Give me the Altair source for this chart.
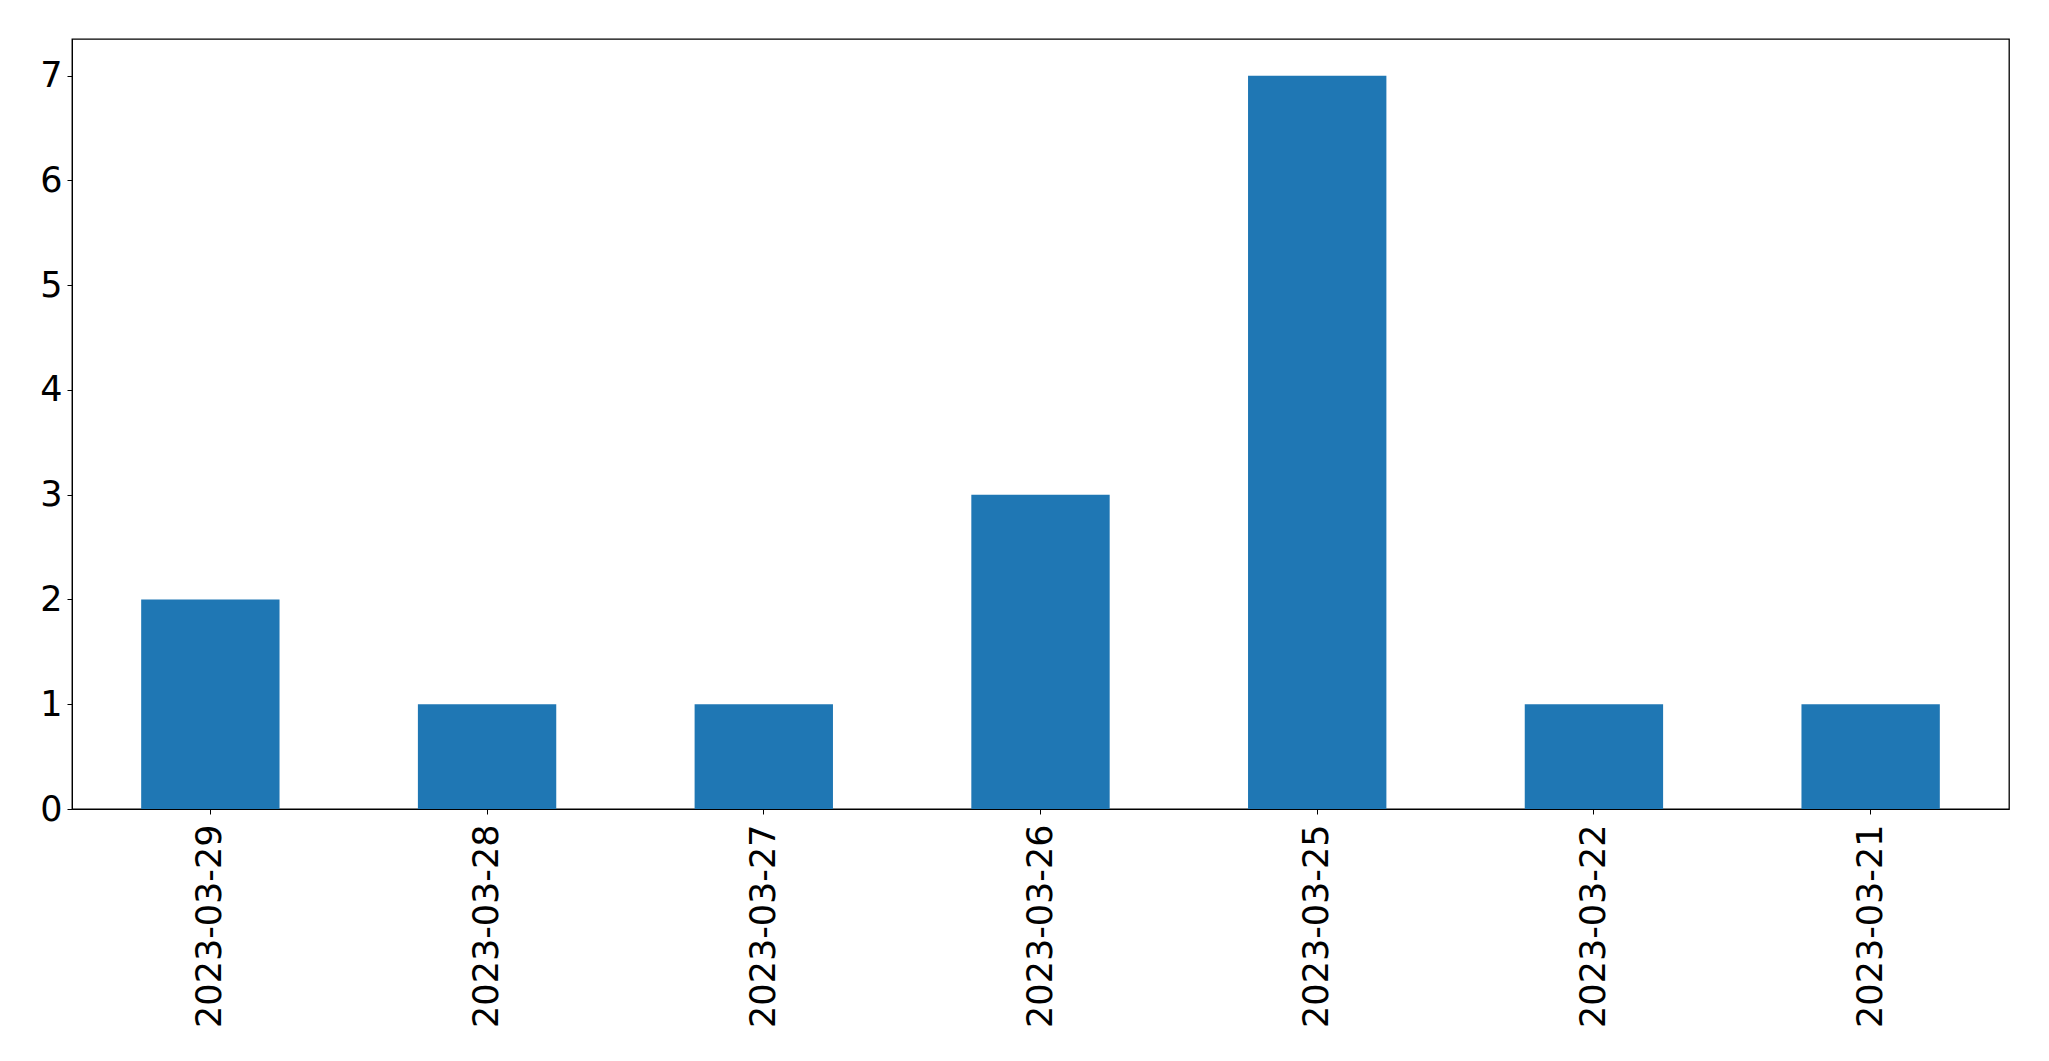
import altair as alt
import pandas as pd

dates = ["2023-03-29", "2023-03-28", "2023-03-27", "2023-03-26", "2023-03-25", "2023-03-22", "2023-03-21"]
counts = [2, 1, 1, 3, 7, 1, 1]

df = pd.DataFrame({"date": dates, "count": counts})

chart = alt.Chart(df).mark_bar(color="#1f77b4").encode(
    x=alt.X("date:N", sort=None, title=None,
            scale=alt.Scale(paddingInner=0.5, paddingOuter=0.25),
            axis=alt.Axis(labelAngle=-90, labelFontSize=35, labelFont="DejaVu Sans",
                          labelColor="black", tickColor="black", tickSize=5,
                          labelPadding=10, labelLimit=0, domainColor="black", grid=False)),
    y=alt.Y("count:Q", title=None,
            scale=alt.Scale(domain=[0, 7.35], nice=False),
            axis=alt.Axis(values=[0, 1, 2, 3, 4, 5, 6, 7], labelFontSize=35,
                          labelFont="DejaVu Sans", labelColor="black",
                          tickColor="black", tickSize=5, labelPadding=5,
                          domainColor="black", grid=False)),
).properties(
    width=1937, height=770,
    autosize=alt.AutoSizeParams(type="none"),
    padding={"left": 64, "top": 31, "right": 30, "bottom": 220},
).configure_view(stroke="black", strokeWidth=1.3)

chart.save("out.html", embed_options={"renderer": "svg", "actions": False})
